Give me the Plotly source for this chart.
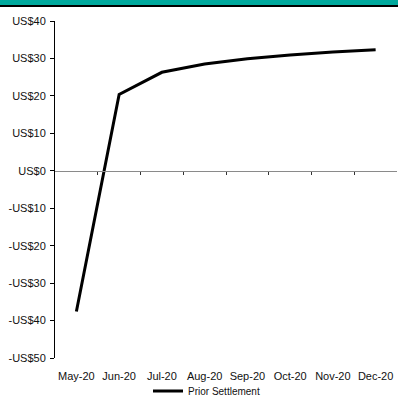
import plotly.graph_objects as go

# Futures curve: prior settlement price per contract month
months = ["May-20", "Jun-20", "Jul-20", "Aug-20", "Sep-20", "Oct-20", "Nov-20", "Dec-20"]
prior_settlement = [-37.6, 20.4, 26.3, 28.5, 29.9, 30.9, 31.7, 32.3]

y_ticks = [40, 30, 20, 10, 0, -10, -20, -30, -40, -50]
y_tick_text = ["US$40", "US$30", "US$20", "US$10", "US$0",
               "-US$10", "-US$20", "-US$30", "-US$40", "-US$50"]

W, H = 398, 398
ML, MR, MT, MB = 55, 1, 21, 40
plot_w = W - ML - MR
plot_h = H - MT - MB

fig = go.Figure()
fig.add_trace(go.Scatter(
    x=months, y=prior_settlement, mode="lines", name="Prior Settlement",
    line=dict(color="black", width=3),
))

# Secondary x-axis drawn along the zero line, with ticks between months
n = len(months)
fig.add_trace(go.Scatter(x=[-0.5, n - 0.5], y=[0, 0], xaxis="x2", mode="lines",
                         line=dict(width=0), showlegend=False, hoverinfo="skip"))

y_min, y_max = y_ticks[-1], y_ticks[0]
zero_pos = (0 - y_min) / (y_max - y_min)

font = dict(family="Liberation Sans, Arial, sans-serif", size=11, color="#111")

page_top = 1 + MT / plot_h

fig.update_layout(
    width=W, height=H,
    margin=dict(l=ML, r=MR, t=MT, b=MB, autoexpand=False),
    paper_bgcolor="white", plot_bgcolor="white",
    font=font,
    showlegend=True,
    legend=dict(orientation="h", xref="container", x=148 / W, xanchor="left",
                yref="container", y=(H - 391) / H, yanchor="middle",
                font=dict(size=10, color="#111"), bgcolor="rgba(0,0,0,0)",
                itemwidth=30),
    xaxis=dict(type="category", categoryarray=months, range=[-0.5, n - 0.5],
               showline=False, ticks="", showgrid=False, zeroline=False,
               ticklabelstandoff=10),
    xaxis2=dict(overlaying="x", anchor="free", position=zero_pos,
                range=[-0.5, n - 0.5],
                tickmode="array", tickvals=[i + 0.5 for i in range(n - 1)],
                showticklabels=False, ticks="outside", ticklen=3, tickcolor="#333",
                showline=True, linecolor="#8a8a8a", linewidth=1,
                showgrid=False, zeroline=False),
    yaxis=dict(range=[y_min, y_max], tickmode="array", tickvals=y_ticks,
               ticktext=y_tick_text, ticks="outside", ticklen=4, tickcolor="black",
               showline=True, linecolor="black", linewidth=1,
               showgrid=False, zeroline=False, ticklabelstandoff=2),
    shapes=[
        # teal header band with a dark rule beneath it
        dict(type="rect", xref="paper", yref="paper", ysizemode="pixel",
             yanchor=page_top, y0=0, y1=-5,
             x0=-ML / plot_w, x1=1 + MR / plot_w,
             fillcolor="#00A99D", line=dict(width=0), layer="above"),
        dict(type="rect", xref="paper", yref="paper", ysizemode="pixel",
             yanchor=page_top, y0=-5, y1=-7,
             x0=-ML / plot_w, x1=1 + MR / plot_w,
             fillcolor="#000000", line=dict(width=0), layer="above"),
    ],
)

fig.write_html("out.html", config={"displayModeBar": False})
